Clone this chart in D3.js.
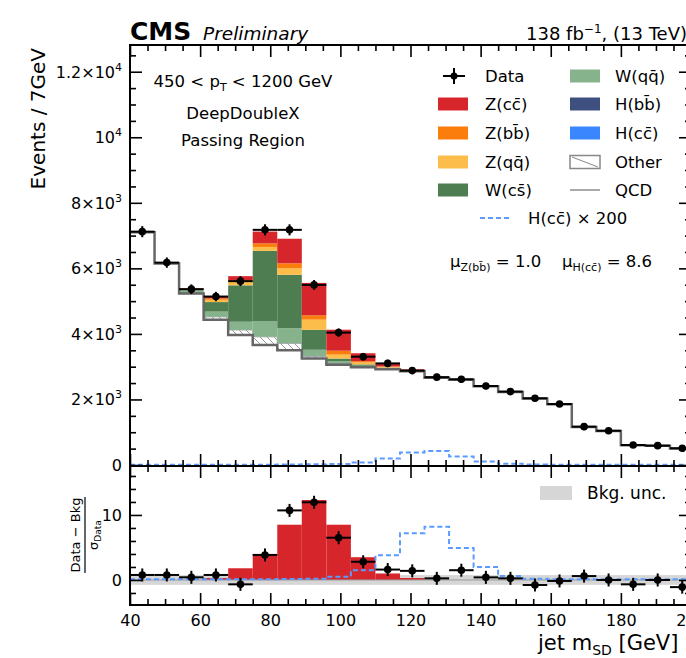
<!DOCTYPE html>
<html>
<head>
<meta charset="utf-8">
<script src="https://cdn.jsdelivr.net/npm/d3@7"></script>
<style>
body { margin: 0; background: #fff; }
svg { display: block; font-family: "DejaVu Sans", "Liberation Sans", sans-serif; }
</style>
</head>
<body>
<svg id="chart"></svg>
<script>
var width = 686;
var height = 658;

// jet mSD bins [GeV]
var binEdges = [40, 47, 54, 61, 68, 75, 82, 89, 96, 103, 110, 117, 124, 131, 138, 145, 152, 159, 166, 173, 180, 187, 194, 201];

// observed events per bin
var dataCounts = [7120, 6175, 5365, 5140, 5610, 7175, 7175, 5495, 4040, 3305, 3100, 2880, 2680, 2615, 2410, 2240, 2035, 1860, 1170, 1045, 610, 590, 510];

// stacked backgrounds and signals (events per bin)
var qcd   = [7100, 6150, 5230, 4430, 3970, 3660, 3500, 3250, 3060, 2980, 2920, 2860, 2665, 2600, 2400, 2228, 2028, 1852, 1162, 1040, 604, 585, 505];
var other = [15, 15, 30, 90, 150, 250, 215, 70, 40, 20, 20, 15, 10, 10, 10, 8, 6, 5, 4, 3, 2, 2, 2];
var hbb   = [0, 0, 0, 1, 2, 3, 4, 6, 8, 8, 6, 4, 3, 2, 1, 1, 0, 0, 0, 0, 0, 0, 0];
var hcc   = [0, 0, 0, 0, 0, 0, 0, 0, 0, 1, 1, 2, 2, 1, 1, 0, 0, 0, 0, 0, 0, 0, 0];
var wqq   = [5, 10, 70, 160, 250, 470, 455, 190, 60, 20, 10, 5, 3, 3, 2, 2, 2, 1, 1, 1, 1, 1, 1];
var wcs   = [3, 5, 40, 290, 1110, 2150, 1630, 610, 80, 40, 15, 5, 2, 2, 2, 1, 1, 1, 1, 1, 1, 1, 1];
var zqq   = [2, 2, 10, 70, 100, 120, 200, 310, 120, 60, 20, 8, 2, 2, 2, 1, 1, 1, 1, 1, 1, 1, 1];
var zbb   = [1, 1, 5, 40, 60, 110, 150, 130, 120, 40, 15, 5, 1, 1, 1, 1, 1, 1, 1, 1, 1, 1, 1];
var zcc   = [2, 5, 15, 60, 120, 360, 750, 990, 640, 240, 80, 20, 8, 3, 3, 3, 3, 3, 3, 3, 3, 3, 3];

// H(cc) signal scaled by 200
var hcc200 = [10, 10, 10, 10, 10, 10, 15, 20, 30, 80, 200, 380, 430, 260, 110, 35, 15, 10, 10, 10, 10, 10, 10];

// lower panel: (data - bkg) / sigma_data
var ratioData   = [0.77, 0.77, 0.41, 0.77, -0.67, 3.85, 10.7, 11.95, 6.5, 2.8, 1.6, 1.4, 0.25, 1.5, 0.4, 0.25, -0.77, -0.15, 0.6, 0.0, -0.67, 0.0, -1.1];
var ratioZcc    = [0, 0, 0, 0.3, 1.8, 4.0, 8.5, 12.3, 8.5, 3.5, 1.0, 0.3, 0, 0, 0, 0, 0, 0, 0, 0, 0, 0, 0];
var ratioHcc200 = [0.1, 0.1, 0.1, 0.1, 0.1, 0.1, 0.15, 0.2, 0.5, 1.5, 3.8, 7.2, 8.2, 4.9, 2.0, 0.6, 0.2, 0.1, 0.1, 0.1, 0.1, 0.1, 0.1];

// axis ticks
var xMajor = [40, 60, 80, 100, 120, 140, 160, 180, 200];
var yMajor = [0, 2000, 4000, 6000, 8000, 10000, 12000];
var yMajorLabels = [["0", ""], ["2\u00d710", "3"], ["4\u00d710", "3"], ["6\u00d710", "3"], ["8\u00d710", "3"], ["10", "4"], ["1.2\u00d710", "4"]];
var rMajor = [0, 10];

var stackKeys = ["qcd", "other", "hbb", "hcc", "wqq", "wcs", "zqq", "zbb", "zcc"];
var colors = {
	zcc: "#d7262b", zbb: "#fb7d0c", zqq: "#fdbd4a", wcs: "#4e7d51", wqq: "#86b38c",
	hbb: "#3f5080", hcc: "#3a86ff", other: "url(#hatch)", qcd: "none"
};

// layout
var plotL = 130, plotR = 691, plotT = 45, plotM = 466, plotB = 605;

var svg = d3.select("#chart").attr("width", width).attr("height", height);

var defs = svg.append("defs");
var pat = defs.append("pattern").attr("id", "hatch")
	.attr("patternUnits", "userSpaceOnUse").attr("width", 7).attr("height", 7);
pat.append("rect").attr("width", 7).attr("height", 7).attr("fill", "#fff");
pat.append("path").attr("d", "M0,0 L7,7 M-1,6 L1,8 M6,-1 L8,1").attr("stroke", "#999").attr("stroke-width", 1);
defs.append("clipPath").attr("id", "clipMain").append("rect")
	.attr("x", plotL).attr("y", plotT).attr("width", plotR - plotL).attr("height", plotM - plotT);
defs.append("clipPath").attr("id", "clipRatio").append("rect")
	.attr("x", plotL).attr("y", plotM).attr("width", plotR - plotL).attr("height", plotB - plotM);

// scales
var x = d3.scaleLinear().domain([40, 200]).range([plotL, plotR]);
var y = d3.scaleLinear().domain([0, 12800]).range([465, plotT + 0.5]);
var yr = d3.scaleLinear().domain([-3.85, 17.5]).range([plotB, plotM + 0.2]);

var rows = dataCounts.map(function(d, i) {
	return { lo: binEdges[i], hi: binEdges[i + 1], qcd: qcd[i], other: other[i], hbb: hbb[i], hcc: hcc[i],
		wqq: wqq[i], wcs: wcs[i], zqq: zqq[i], zbb: zbb[i], zcc: zcc[i] };
});
var stacked = d3.stack().keys(stackKeys)(rows);

function stepPoints(vals) {
	var pts = vals.map(function(v, i) { return [binEdges[i], v]; });
	pts.push([binEdges[vals.length], vals[vals.length - 1]]);
	return pts;
}

// ---------- main panel ----------
var main = svg.append("g").attr("clip-path", "url(#clipMain)");

stacked.forEach(function(layer) {
	if (layer.key == "qcd") return;
	main.append("g").selectAll("rect").data(layer).enter().append("rect")
		.attr("x", function(d) { return x(d.data.lo); })
		.attr("width", function(d) { return x(d.data.hi) - x(d.data.lo); })
		.attr("y", function(d) { return y(d[1]); })
		.attr("height", function(d) { return Math.max(0, y(d[0]) - y(d[1])); })
		.attr("fill", colors[layer.key])
		.attr("stroke", layer.key == "other" ? "#aaa" : "none")
		.attr("stroke-width", 1);
});

var stepMain = d3.line().x(function(d) { return x(d[0]); }).y(function(d) { return y(d[1]); }).curve(d3.curveStepAfter);

// qcd outline
main.append("path").attr("d", stepMain(stepPoints(qcd)))
	.attr("fill", "none").attr("stroke", "#666").attr("stroke-width", 2.5);

// scaled H(cc) signal
main.append("path").attr("d", stepMain(stepPoints(hcc200)))
	.attr("fill", "none").attr("stroke", "#5b9bff").attr("stroke-width", 2).attr("stroke-dasharray", "5,3");

// data points
var pts = main.append("g").selectAll("g").data(rows).enter().append("g");
pts.append("line")
	.attr("x1", function(d) { return x(d.lo); }).attr("x2", function(d) { return x(d.hi); })
	.attr("y1", function(d, i) { return y(dataCounts[i]); }).attr("y2", function(d, i) { return y(dataCounts[i]); })
	.attr("stroke", "#000").attr("stroke-width", 2);
pts.append("line")
	.attr("x1", function(d) { return x((d.lo + d.hi) / 2); }).attr("x2", function(d) { return x((d.lo + d.hi) / 2); })
	.attr("y1", function(d, i) { return y(dataCounts[i] + 2 * Math.sqrt(dataCounts[i])); })
	.attr("y2", function(d, i) { return y(dataCounts[i] - 2 * Math.sqrt(dataCounts[i])); })
	.attr("stroke", "#000").attr("stroke-width", 2);
pts.append("circle")
	.attr("cx", function(d) { return x((d.lo + d.hi) / 2); })
	.attr("cy", function(d, i) { return y(dataCounts[i]); })
	.attr("r", 3.8).attr("fill", "#000");

// ---------- ratio panel ----------
var rat = svg.append("g").attr("clip-path", "url(#clipRatio)");

rat.append("rect").attr("x", plotL).attr("width", plotR - plotL)
	.attr("y", yr(0.75)).attr("height", yr(-0.75) - yr(0.75)).attr("fill", "#d6d6d6");

rat.append("g").selectAll("rect").data(rows).enter().append("rect")
	.attr("x", function(d) { return x(d.lo); })
	.attr("width", function(d) { return x(d.hi) - x(d.lo); })
	.attr("y", function(d, i) { return yr(ratioZcc[i]); })
	.attr("height", function(d, i) { return yr(0) - yr(ratioZcc[i]); })
	.attr("fill", colors.zcc);

rat.append("line").attr("x1", plotL).attr("x2", plotR).attr("y1", yr(0)).attr("y2", yr(0))
	.attr("stroke", "#999").attr("stroke-width", 1);

var stepRatio = d3.line().x(function(d) { return x(d[0]); }).y(function(d) { return yr(d[1]); }).curve(d3.curveStepAfter);
rat.append("path").attr("d", stepRatio(stepPoints(ratioHcc200)))
	.attr("fill", "none").attr("stroke", "#5b9bff").attr("stroke-width", 2).attr("stroke-dasharray", "5,3");

var rpts = rat.append("g").selectAll("g").data(rows).enter().append("g");
rpts.append("line")
	.attr("x1", function(d) { return x(d.lo); }).attr("x2", function(d) { return x(d.hi); })
	.attr("y1", function(d, i) { return yr(ratioData[i]); }).attr("y2", function(d, i) { return yr(ratioData[i]); })
	.attr("stroke", "#000").attr("stroke-width", 2);
rpts.append("line")
	.attr("x1", function(d) { return x((d.lo + d.hi) / 2); }).attr("x2", function(d) { return x((d.lo + d.hi) / 2); })
	.attr("y1", function(d, i) { return yr(ratioData[i] + 1); })
	.attr("y2", function(d, i) { return yr(ratioData[i] - 1); })
	.attr("stroke", "#000").attr("stroke-width", 2);
rpts.append("circle")
	.attr("cx", function(d) { return x((d.lo + d.hi) / 2); })
	.attr("cy", function(d, i) { return yr(ratioData[i]); })
	.attr("r", 3.8).attr("fill", "#000");

// ---------- axes ----------
var xMinor = d3.range(45, 201, 5).filter(function(v) { return v % 20 != 0; });
var yMinor = d3.range(500, 12800, 500).filter(function(v) { return v % 2000 != 0; });
var rMinor = [-2, 2, 4, 6, 8, 12, 14, 16];

function styleAxis(g) {
	g.select(".domain").remove();
	g.selectAll(".tick line").attr("stroke", "#000").attr("stroke-width", 1.6);
	g.selectAll(".tick text").attr("fill", "#000").style("font-size", "16px").style("font-family", "DejaVu Sans");
}

function xAxes(axisFn, ypos, withLabels) {
	svg.append("g").attr("transform", "translate(0," + ypos + ")")
		.call(axisFn(x).tickValues(xMajor).tickSize(-12).tickSizeOuter(0).tickPadding(10)
			.tickFormat(withLabels ? d3.format("d") : ""))
		.call(styleAxis);
	svg.append("g").attr("transform", "translate(0," + ypos + ")")
		.call(axisFn(x).tickValues(xMinor).tickSize(-6).tickSizeOuter(0).tickFormat(""))
		.call(styleAxis);
}
xAxes(d3.axisTop, plotT, false);
xAxes(d3.axisBottom, plotM, false);
xAxes(d3.axisTop, plotM, false);
xAxes(d3.axisBottom, plotB, true);

function yAxes(scale, major, minor, fmt) {
	svg.append("g").attr("transform", "translate(" + plotL + ",0)")
		.call(d3.axisLeft(scale).tickValues(major).tickSize(-12).tickSizeOuter(0).tickPadding(8).tickFormat(fmt))
		.call(styleAxis);
	svg.append("g").attr("transform", "translate(" + plotL + ",0)")
		.call(d3.axisLeft(scale).tickValues(minor).tickSize(-6).tickSizeOuter(0).tickFormat(""))
		.call(styleAxis);
	svg.append("g").attr("transform", "translate(" + plotR + ",0)")
		.call(d3.axisRight(scale).tickValues(major).tickSize(-12).tickSizeOuter(0).tickFormat(""))
		.call(styleAxis);
	svg.append("g").attr("transform", "translate(" + plotR + ",0)")
		.call(d3.axisRight(scale).tickValues(minor).tickSize(-6).tickSizeOuter(0).tickFormat(""))
		.call(styleAxis);
}

yAxes(y, yMajor, yMinor, function() { return ""; });
// main y labels with exponents
svg.append("g").selectAll("text").data(yMajor).enter().append("text")
	.attr("x", plotL - 8).attr("y", function(d) { return y(d) + 6; })
	.attr("text-anchor", "end").style("font-size", "16px")
	.each(function(d, i) {
		var t = d3.select(this);
		t.append("tspan").text(yMajorLabels[i][0]);
		if (yMajorLabels[i][1]) t.append("tspan").attr("dy", -7).style("font-size", "11px").text(yMajorLabels[i][1]);
	});

yAxes(yr, rMajor, rMinor, d3.format("d"));

// frames
svg.append("rect").attr("x", plotL).attr("y", plotT).attr("width", plotR - plotL).attr("height", plotM - plotT)
	.attr("fill", "none").attr("stroke", "#000").attr("stroke-width", 2);
svg.append("rect").attr("x", plotL).attr("y", plotM).attr("width", plotR - plotL).attr("height", plotB - plotM)
	.attr("fill", "none").attr("stroke", "#000").attr("stroke-width", 2);

// ---------- titles ----------
svg.append("text").attr("x", plotL).attr("y", 40)
	.style("font-size", "25px").style("font-weight", "bold").text("CMS");
svg.append("text").attr("x", 203).attr("y", 40)
	.style("font-size", "18.5px").style("font-style", "italic").text("Preliminary");
var lumi = svg.append("text").attr("x", 687).attr("y", 40).attr("text-anchor", "end").style("font-size", "18px");
lumi.append("tspan").text("138 fb");
lumi.append("tspan").attr("dy", -7).style("font-size", "12px").text("\u22121");
lumi.append("tspan").attr("dy", 7).text(", (13 TeV)");

svg.append("text").attr("text-anchor", "end").attr("transform", "translate(45,48)rotate(-90)")
	.style("font-size", "20px").text("Events / 7GeV");

var xt = svg.append("text").attr("x", 538).attr("y", 650).style("font-size", "21px");
xt.append("tspan").text("jet m");
xt.append("tspan").attr("dy", 5).style("font-size", "14px").text("SD");
xt.append("tspan").attr("dy", -5).text(" [GeV]");

// ratio y title as a fraction
svg.append("text").attr("text-anchor", "middle").attr("transform", "translate(80,535)rotate(-90)")
	.style("font-size", "13px").text("Data \u2212 Bkg");
svg.append("line").attr("x1", 85).attr("x2", 85).attr("y1", 497).attr("y2", 573)
	.attr("stroke", "#000").attr("stroke-width", 1.2);
var den = svg.append("text").attr("text-anchor", "middle").attr("transform", "translate(98,535)rotate(-90)")
	.style("font-size", "13px");
den.append("tspan").text("\u03c3");
den.append("tspan").attr("dy", 3).style("font-size", "9px").text("Data");

// region text
var reg = svg.append("g").attr("text-anchor", "middle").style("font-size", "16.5px");
var pt = reg.append("text").attr("x", 243).attr("y", 87);
pt.append("tspan").text("450 < p");
pt.append("tspan").attr("dy", 4).style("font-size", "11px").text("T");
pt.append("tspan").attr("dy", -4).text(" < 1200 GeV");
reg.append("text").attr("x", 243).attr("y", 119).text("DeepDoubleX");
reg.append("text").attr("x", 243).attr("y", 146).text("Passing Region");

// ---------- legend ----------
var legendRows = [76, 104, 133, 162, 190];
var legCol1 = [["data", "Data"], ["zcc", "Z(cc\u0304)"], ["zbb", "Z(bb\u0304)"], ["zqq", "Z(qq\u0304)"], ["wcs", "W(cs\u0304)"]];
var legCol2 = [["wqq", "W(qq\u0304)"], ["hbb", "H(bb\u0304)"], ["hcc", "H(cc\u0304)"], ["other", "Other"], ["qcd", "QCD"]];

var leg = svg.append("g").style("font-size", "16.5px");

function legendEntry(item, row, sx, tx) {
	var yc = legendRows[row];
	if (item[0] == "data") {
		leg.append("line").attr("x1", sx + 5).attr("x2", sx + 27).attr("y1", yc).attr("y2", yc).attr("stroke", "#000").attr("stroke-width", 2);
		leg.append("line").attr("x1", sx + 16).attr("x2", sx + 16).attr("y1", yc - 8).attr("y2", yc + 8).attr("stroke", "#000").attr("stroke-width", 2);
		leg.append("circle").attr("cx", sx + 16).attr("cy", yc).attr("r", 3.5).attr("fill", "#000");
	} else if (item[0] == "qcd") {
		leg.append("line").attr("x1", sx).attr("x2", sx + 30).attr("y1", yc).attr("y2", yc).attr("stroke", "#aaa").attr("stroke-width", 2);
	} else if (item[0] == "other") {
		leg.append("rect").attr("x", sx).attr("y", yc - 6.5).attr("width", 30).attr("height", 13)
			.attr("fill", "#fff").attr("stroke", "#888").attr("stroke-width", 1.5);
		leg.append("line").attr("x1", sx + 2).attr("x2", sx + 28).attr("y1", yc - 5).attr("y2", yc + 5).attr("stroke", "#888").attr("stroke-width", 1);
	} else {
		leg.append("rect").attr("x", sx).attr("y", yc - 6.5).attr("width", 30).attr("height", 13).attr("fill", colors[item[0]]);
	}
	leg.append("text").attr("x", tx).attr("y", yc + 6).text(item[1]);
}
legCol1.forEach(function(it, i) { legendEntry(it, i, 438, 485); });
legCol2.forEach(function(it, i) { legendEntry(it, i, 570, 615); });

leg.append("line").attr("x1", 480).attr("x2", 512).attr("y1", 218).attr("y2", 218)
	.attr("stroke", "#5b9bff").attr("stroke-width", 2).attr("stroke-dasharray", "5,3");
var hl = leg.append("text").attr("x", 528).attr("y", 224);
hl.append("tspan").text("H(cc\u0304) \u00d7 200");

// signal strengths
var mu1 = leg.append("text").attr("x", 450).attr("y", 267);
mu1.append("tspan").text("\u03bc");
mu1.append("tspan").attr("dy", 4).style("font-size", "11px").text("Z(bb\u0304)");
mu1.append("tspan").attr("dy", -4).text(" = 1.0");
var mu2 = leg.append("text").attr("x", 562).attr("y", 267);
mu2.append("tspan").text("\u03bc");
mu2.append("tspan").attr("dy", 4).style("font-size", "11px").text("H(cc\u0304)");
mu2.append("tspan").attr("dy", -4).text(" = 8.6");

// ratio legend
svg.append("rect").attr("x", 540).attr("y", 486).attr("width", 32).attr("height", 14).attr("fill", "#d6d6d6");
svg.append("text").attr("x", 587).attr("y", 499).style("font-size", "17px").text("Bkg. unc.");
</script>
</body>
</html>
